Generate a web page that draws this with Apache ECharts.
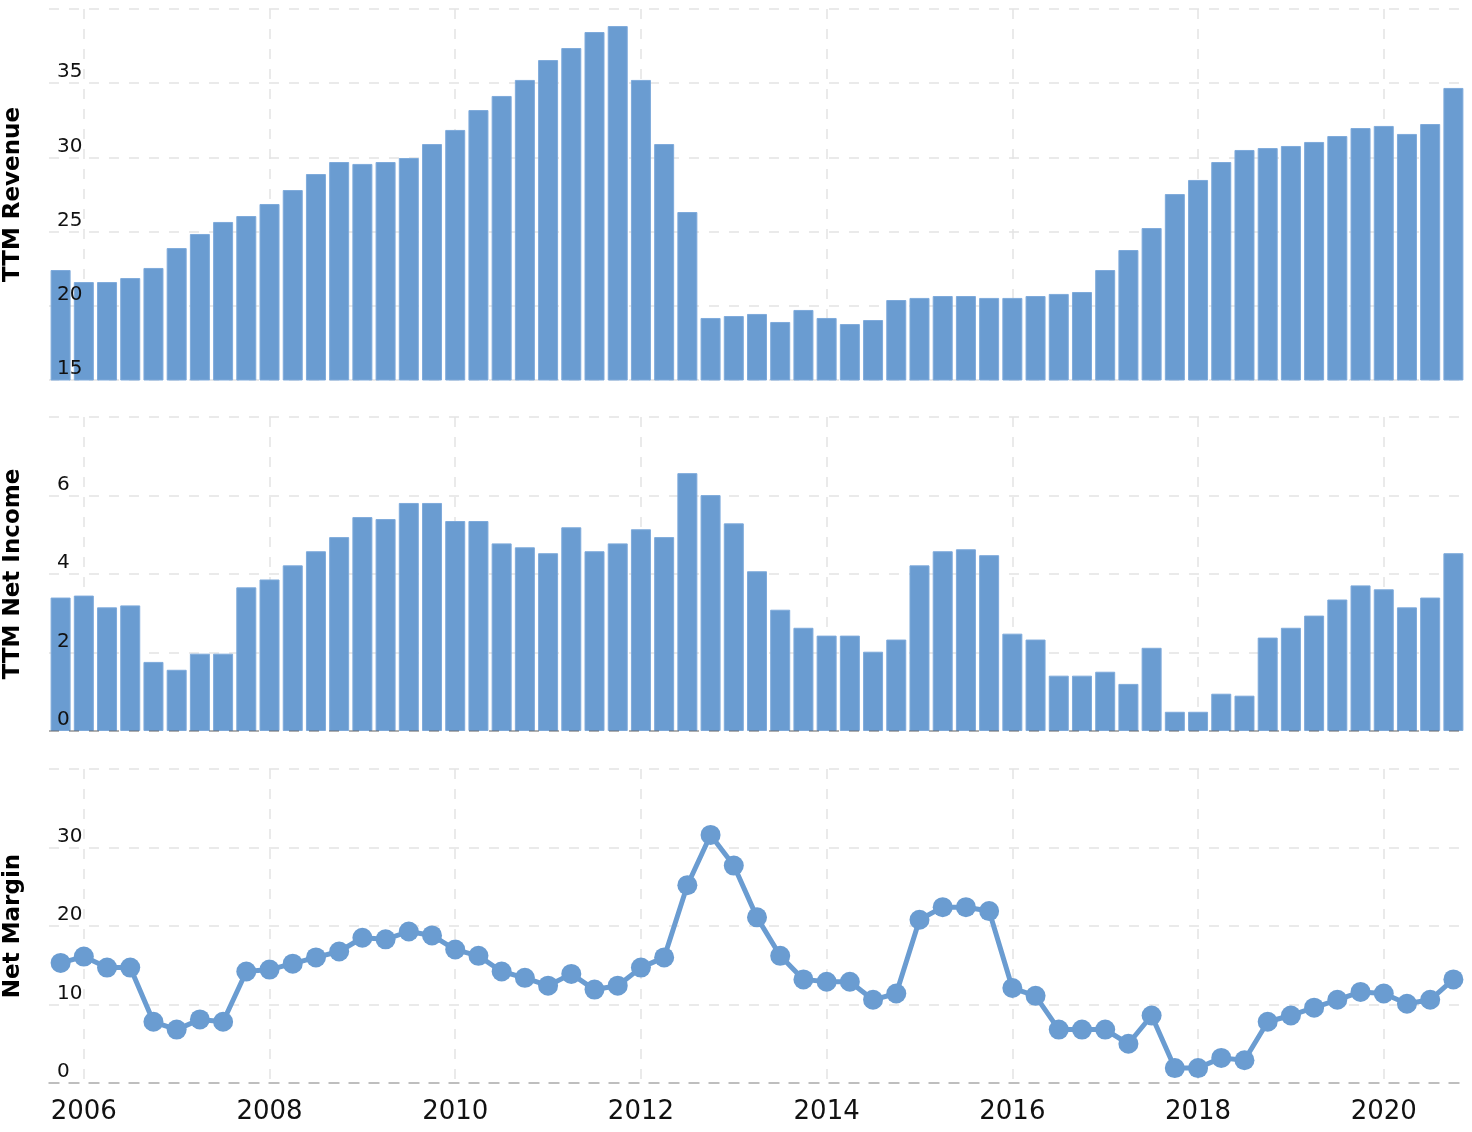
<!DOCTYPE html>
<html>
<head>
<meta charset="utf-8">
<title>TTM Revenue / Net Income / Net Margin</title>
<script src="https://cdn.jsdelivr.net/npm/echarts@6/dist/echarts.min.js"></script>
<style>
  html, body { margin: 0; padding: 0; background: #fff; }
  #chart { width: 1472px; height: 1132px; }
</style>
</head>
<body>
<div id="chart"></div>
<script>
// 季度末日期
const quarters = [
  '2005-09-30', '2005-12-31',
  '2006-03-31', '2006-06-30', '2006-09-30', '2006-12-31',
  '2007-03-31', '2007-06-30', '2007-09-30', '2007-12-31',
  '2008-03-31', '2008-06-30', '2008-09-30', '2008-12-31',
  '2009-03-31', '2009-06-30', '2009-09-30', '2009-12-31',
  '2010-03-31', '2010-06-30', '2010-09-30', '2010-12-31',
  '2011-03-31', '2011-06-30', '2011-09-30', '2011-12-31',
  '2012-03-31', '2012-06-30', '2012-09-30', '2012-12-31',
  '2013-03-31', '2013-06-30', '2013-09-30', '2013-12-31',
  '2014-03-31', '2014-06-30', '2014-09-30', '2014-12-31',
  '2015-03-31', '2015-06-30', '2015-09-30', '2015-12-31',
  '2016-03-31', '2016-06-30', '2016-09-30', '2016-12-31',
  '2017-03-31', '2017-06-30', '2017-09-30', '2017-12-31',
  '2018-03-31', '2018-06-30', '2018-09-30', '2018-12-31',
  '2019-03-31', '2019-06-30', '2019-09-30', '2019-12-31',
  '2020-03-31', '2020-06-30', '2020-09-30'
]

// TTM Revenue
const revenue = [
  22.41, 21.60, 21.60, 21.87, 22.55, 23.89, 24.84, 25.65, 26.05, 26.86,
  27.80, 28.88, 29.69, 29.56, 29.69, 29.96, 30.90, 31.85, 33.19, 34.14,
  35.22, 36.56, 37.37, 38.45, 38.85, 35.22, 30.90, 26.32, 19.18, 19.31,
  19.45, 18.91, 19.72, 19.18, 18.77, 19.04, 20.39, 20.53, 20.66, 20.66,
  20.53, 20.53, 20.66, 20.80, 20.93, 22.41, 23.76, 25.24, 27.53, 28.48,
  29.69, 30.50, 30.63, 30.77, 31.04, 31.44, 31.98, 32.12, 31.58, 32.25,
  34.68
]

// TTM Net Income
const netIncome = [
  3.40, 3.45, 3.15, 3.20, 1.76, 1.56, 1.97, 1.97, 3.66, 3.86,
  4.22, 4.58, 4.94, 5.45, 5.40, 5.81, 5.81, 5.35, 5.35, 4.78,
  4.68, 4.53, 5.19, 4.58, 4.78, 5.14, 4.94, 6.57, 6.01, 5.29,
  4.07, 3.09, 2.63, 2.43, 2.43, 2.02, 2.33, 4.22, 4.58, 4.63,
  4.48, 2.48, 2.33, 1.41, 1.41, 1.51, 1.20, 2.12, 0.49, 0.49,
  0.95, 0.90, 2.38, 2.63, 2.94, 3.35, 3.71, 3.61, 3.15, 3.40,
  4.53
]

// Net Margin (%)
const netMargin = [
  15.3, 16.1, 14.7, 14.7, 7.8, 6.8, 8.1, 7.8, 14.2, 14.45,
  15.2, 16.0, 16.75, 18.5, 18.3, 19.3, 18.8, 17.0, 16.2, 14.2,
  13.4, 12.4, 13.9, 11.9, 12.4, 14.7, 16.0, 25.2, 31.6, 27.7,
  21.1, 16.2, 13.2, 12.9, 12.9, 10.6, 11.4, 20.8, 22.4, 22.4,
  21.9, 12.1, 11.1, 6.8, 6.8, 6.8, 5.0, 8.6, 1.9, 1.9,
  3.2, 2.9, 7.8, 8.6, 9.6, 10.6, 11.6, 11.4, 10.1, 10.6,
  13.2
]

// x轴年份刻度（年初，对应前一年的12-31季度）
const yearTicks = ['2006', '2008', '2010', '2012', '2014', '2016', '2018', '2020']

const BLUE = '#6a9cd1'
const FONT = 'DejaVu Sans'

// 12-31 的季度就是下一年的年初
function yearOf (q) {
  return q.slice(5) === '12-31' ? String(+q.slice(0, 4) + 1) : null
}
function isYearTick (index, value) {
  return yearTicks.indexOf(yearOf(value)) >= 0
}

const gridLine = {
  show: true,
  lineStyle: { color: '#e4e4e4', width: 1.5, type: [10, 10] }
}

function makeX (gridIndex, showLabel, axisLineColor) {
  return {
    type: 'category',
    gridIndex: gridIndex,
    data: quarters,
    boundaryGap: true,
    axisTick: { show: false, alignWithLabel: true, interval: isYearTick },
    axisLine: {
      show: axisLineColor != null,
      lineStyle: { color: axisLineColor, width: 1.5, type: [10, 10] }
    },
    axisLabel: {
      show: showLabel,
      interval: isYearTick,
      formatter: (val) => yearOf(val),
      color: '#111',
      fontFamily: FONT,
      fontSize: 26,
      margin: 16
    },
    splitLine: Object.assign({ interval: isYearTick, alignWithLabel: true }, gridLine)
  }
}

// 网格线用的y轴（在柱子下面）
function makeY (gridIndex, name, min, max, interval) {
  return {
    type: 'value',
    gridIndex: gridIndex,
    position: 'left',
    min: min,
    max: max,
    interval: interval,
    name: name,
    nameLocation: 'middle',
    nameGap: 24,
    nameTextStyle: { color: '#000', fontFamily: FONT, fontWeight: 'bold', fontSize: 23 },
    axisLine: { show: false },
    axisTick: { show: false },
    axisLabel: { show: false },
    splitLine: gridLine
  }
}

// 刻度文字用的y轴（在柱子上面）
function makeYLabel (gridIndex, min, max, interval) {
  return {
    type: 'value',
    gridIndex: gridIndex,
    position: 'left',
    min: min,
    max: max,
    interval: interval,
    z: 10,
    axisLine: { show: false },
    axisTick: { show: false },
    splitLine: { show: false },
    axisLabel: {
      inside: true,
      verticalAlign: 'bottom',
      margin: 8,
      padding: [0, 0, 1, 0],
      showMaxLabel: false,
      color: '#111',
      fontFamily: FONT,
      fontSize: 20
    }
  }
}

const chart = echarts.init(document.getElementById('chart'))

const option = {
  animation: false,
  backgroundColor: '#fff',
  grid: [
    { left: 49, right: 7, top: 9, height: 371, outerBoundsMode: 'none' },
    { left: 49, right: 7, top: 417, height: 314, outerBoundsMode: 'none' },
    { left: 49, right: 7, top: 769, height: 314, outerBoundsMode: 'none' }
  ],
  xAxis: [
    makeX(0, false, null),
    makeX(1, false, null),
    makeX(2, true, '#b0b0b0')
  ],
  yAxis: [
    makeY(0, 'TTM Revenue', 15, 40, 5),
    makeY(1, 'TTM Net Income', 0, 8, 2),
    makeY(2, 'Net Margin', 0, 40, 10),
    makeYLabel(0, 15, 40, 5),
    makeYLabel(1, 0, 8, 2),
    makeYLabel(2, 0, 40, 10)
  ],
  series: [
    {
      type: 'bar',
      xAxisIndex: 0,
      yAxisIndex: 0,
      barWidth: 20,
      itemStyle: { color: BLUE, borderColor: '#7eaadb', borderWidth: 1 },
      data: revenue
    },
    {
      type: 'bar',
      xAxisIndex: 1,
      yAxisIndex: 1,
      barWidth: 20,
      itemStyle: { color: BLUE, borderColor: '#7eaadb', borderWidth: 1 },
      // 零线画在柱子上面
      markLine: {
        silent: true,
        symbol: 'none',
        label: { show: false },
        lineStyle: { color: 'rgba(60,60,60,0.45)', width: 1.5, type: [10, 10] },
        data: [{ yAxis: 0 }]
      },
      data: netIncome
    },
    {
      type: 'line',
      xAxisIndex: 2,
      yAxisIndex: 2,
      symbol: 'circle',
      symbolSize: 20,
      showAllSymbol: true,
      lineStyle: { color: BLUE, width: 5 },
      itemStyle: { color: BLUE },
      data: netMargin
    }
  ]
}

chart.setOption(option)
</script>
</body>
</html>
